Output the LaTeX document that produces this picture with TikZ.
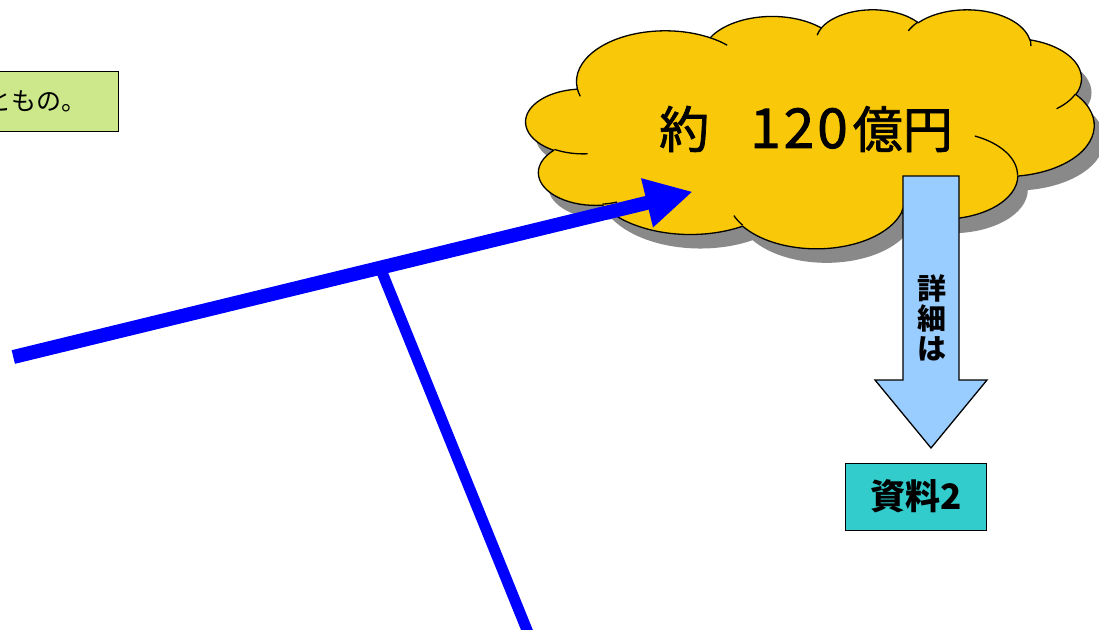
\documentclass[tikz,border=0pt]{standalone}
\usepackage{fontspec}
\newfontfamily\jp{Noto Sans CJK JP}
\newfontfamily\jpheavy[FakeBold=1.5]{Noto Sans CJK JP}
\usetikzlibrary{arrows.meta,calc}
\definecolor{cloudfill}{RGB}{249,200,8}
\definecolor{shadowgray}{RGB}{137,137,137}
\definecolor{arrowblue}{RGB}{0,0,255}
\definecolor{paleblue}{RGB}{153,204,255}
\definecolor{tealbox}{RGB}{51,204,204}
\definecolor{notegreen}{RGB}{204,232,138}

% arc of an ellipse given with visual angles (as in the usual cloud geometry)
\newcommand\cldcalc[5]{%
  \pgfmathsetmacro\CLtmpa{atan2((#2)*sin(#4),(#3)*cos(#4))}%
  \pgfmathsetmacro\CLtmpb{atan2((#2)*sin((#4)+(#5)),(#3)*cos((#4)+(#5)))}%
  \pgfmathsetmacro\CLtmpd{\CLtmpb-\CLtmpa}%
  \pgfmathsetmacro\CLtmpd{\CLtmpd-360*round((\CLtmpd-(#5))/360)}%
  \expandafter\xdef\csname CLs#1\endcsname{\CLtmpa}%
  \expandafter\xdef\csname CLd#1\endcsname{\CLtmpd}%
}
\cldcalc{A}{675.3}{919.0}{-190.4875}{123.7805}
\cldcalc{B}{533.3}{726.7}{-144.1024}{89.9452}
\cldcalc{C}{436.5}{594.5}{-145.8079}{99.7230}
\cldcalc{D}{485.7}{659.5}{-130.9861}{117.2417}
\cldcalc{E}{533.3}{727.3}{-78.7089}{109.0269}
\cldcalc{F}{677.5}{922.0}{-46.2673}{130.2690}
\cldcalc{G}{578.5}{786.7}{0.6250}{114.0333}
\cldcalc{H}{675.2}{921.5}{22.4516}{115.1726}
\cldcalc{I}{772.0}{1054.3}{66.2426}{75.7110}
\cldcalc{J}{436.0}{591.8}{-274.9421}{146.7356}
\cldcalc{K}{434.5}{594.5}{-246.8285}{152.5189}
\cldcalc{a}{434.5}{594.5}{86.742}{26.4295}
\cldcalc{b}{436.0}{591.8}{73.6105}{11.4475}
\cldcalc{c}{675.2}{921.5}{137.6242}{14.0811}
\cldcalc{d}{675.2}{921.5}{6.4533}{15.9984}
\cldcalc{e}{578.5}{786.7}{-70.2924}{70.9174}
\cldcalc{f}{533.3}{727.3}{30.3180}{27.7515}
\cldcalc{g}{485.7}{659.5}{-13.7443}{14.8589}
\cldcalc{h}{485.7}{659.5}{-149.1815}{18.1954}
\cldcalc{i}{436.5}{594.5}{-163.4943}{17.6864}
\cldcalc{j}{675.3}{919.0}{-66.7070}{12.3194}
\cldcalc{k}{675.3}{919.0}{157.6544}{11.8582}

\newcommand\CLarc[3]{arc[x radius=#2,y radius=#3,start angle=\csname CLs#1\endcsname,delta angle=\csname CLd#1\endcsname]}

\tikzset{
  cloudscale/.style={x=0.13148pt,y=-0.05532pt},
  outline/.style={draw=black,line width=1.3pt},
  bluestroke/.style={draw=arrowblue,line width=14pt},
  notebox/.style={draw=black,line width=1.2pt,fill=notegreen,inner sep=0pt},
  refbox/.style={draw=black,line width=1.3pt,fill=tealbox,inner sep=0pt},
}

\begin{document}
\begin{tikzpicture}[x=1pt,y=-1pt]
\useasboundingbox (0,0) rectangle (1099,629);
\clip (0,0) rectangle (1099,629);
\fill[white] (0,0) rectangle (1099,629);

% note box (cut at the left edge)
\node[notebox,anchor=north east,minimum width=160pt,minimum height=60pt] (notebox) at (119.3,70.7) {};
\node[anchor=east,inner sep=0pt,font=\jp\fontsize{25}{25}\selectfont] (note) at (87,101) {ともの。};

% cloud shadow
\begin{scope}[shift={(536,23)},cloudscale]
\fill[shadowgray] (390,1437) \CLarc{A}{675.3}{919.0} \CLarc{B}{533.3}{726.7} \CLarc{C}{436.5}{594.5}
  \CLarc{D}{485.7}{659.5} \CLarc{E}{533.3}{727.3} \CLarc{F}{677.5}{922.0} \CLarc{G}{578.5}{786.7}
  \CLarc{H}{675.2}{921.5} \CLarc{I}{772.0}{1054.3} \CLarc{J}{436.0}{591.8} \CLarc{K}{434.5}{594.5} -- cycle;
\end{scope}

% cloud
\begin{scope}[shift={(526,9)},cloudscale]
\path[fill=cloudfill,outline,line join=round] (390,1437) \CLarc{A}{675.3}{919.0} \CLarc{B}{533.3}{726.7} \CLarc{C}{436.5}{594.5}
  \CLarc{D}{485.7}{659.5} \CLarc{E}{533.3}{727.3} \CLarc{F}{677.5}{922.0} \CLarc{G}{578.5}{786.7}
  \CLarc{H}{675.2}{921.5} \CLarc{I}{772.0}{1054.3} \CLarc{J}{436.0}{591.8} \CLarc{K}{434.5}{594.5} -- cycle;
\draw[outline] (469.3,2617.7) \CLarc{a}{434.5}{594.5};
\draw[outline] (692.8,3489.9) \CLarc{b}{436.0}{591.8};
\draw[outline] (1647.8,3909.0) \CLarc{c}{675.2}{921.5};
\draw[outline] (2882.7,3475.1) \CLarc{d}{675.2}{921.5};
\draw[outline] (3412.9,2295.4) \CLarc{e}{578.5}{786.7};
\draw[outline] (4179.8,1535.4) \CLarc{f}{533.3}{727.3};
\draw[outline] (3832.4,542.6) \CLarc{g}{485.7}{659.5};
\draw[outline] (2907.8,395.2) \CLarc{h}{485.7}{659.5};
\draw[outline] (2214.1,472.0) \CLarc{i}{436.5}{594.5};
\draw[outline] (1400.0,519.2) \CLarc{j}{675.3}{919.0};
\draw[outline] (412.7,1578.9) \CLarc{k}{675.3}{919.0};
\end{scope}

\node[inner sep=0pt,font=\jpheavy\fontsize{50}{50}\selectfont] (amount) at (806,129) {約　\kern-9pt{\fontsize{55}{50}\selectfont 1\kern3pt 2\kern3pt 0}\kern5pt 億円};

% blue arrows
\coordinate (start) at (13.3,357);
\coordinate (tip) at (692.7,191.7);
\coordinate (joint) at ($(start)!0.540!(tip)$);
\coordinate (down) at (531,640);
\draw[bluestroke,line width=11pt] (joint) -- (down);
\draw[bluestroke,-{Triangle[length=47pt,width=47pt]},arrowblue] (start) -- (tip);

% pale blue down arrow
\path[fill=paleblue,draw=black,line width=1.3pt,line join=miter]
  (903,176) -- (959,176) -- (959,380) -- (987,380) -- (931,448) -- (875,380) -- (903,380) -- cycle;
\node[align=center,inner sep=0pt,font=\jp\bfseries\fontsize{29}{30}\selectfont] (detail) at (931.5,318) {詳\\細\\は};

% reference box
\node[refbox,minimum width=141pt,minimum height=67pt,font=\jp\bfseries\fontsize{35}{35}\selectfont] (ref) at (915.8,496.7) {資料2};
\end{tikzpicture}
\end{document}
